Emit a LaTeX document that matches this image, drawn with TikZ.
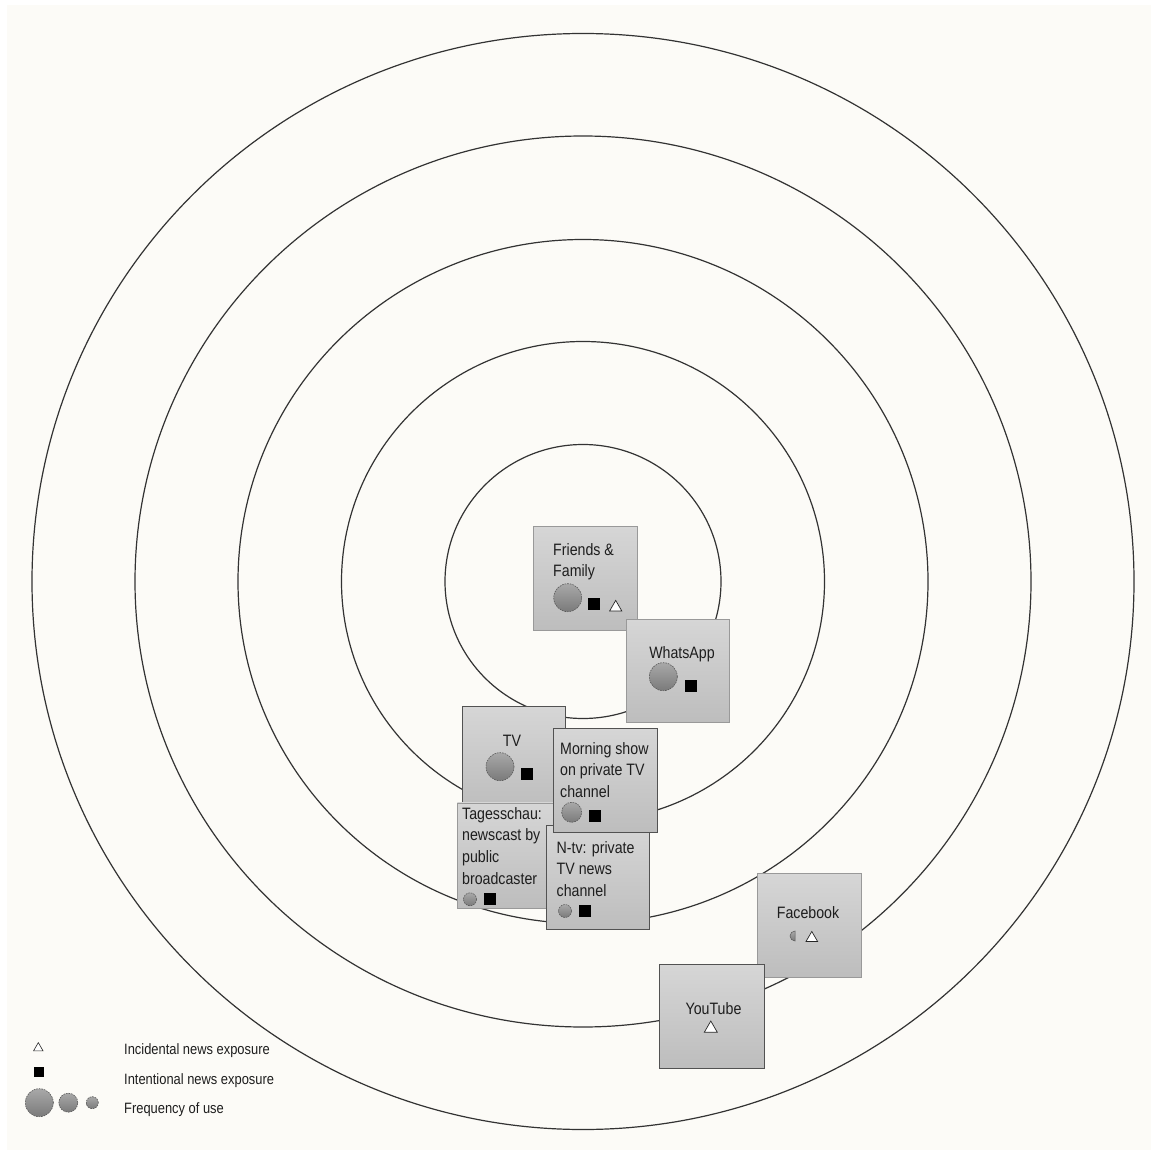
\documentclass[tikz,border=0pt]{standalone}
\usepackage{fontspec}
\setmainfont{Liberation Sans}[FakeStretch=0.86]
\usetikzlibrary{shapes.geometric}
\definecolor{bgcol}{HTML}{FCFBF7}
\definecolor{ringcol}{HTML}{333333}
\definecolor{boxtop}{HTML}{D6D6D6}
\definecolor{boxbot}{HTML}{BDBDBD}
\definecolor{txtcol}{HTML}{1E1E1E}
\begin{document}
\begin{tikzpicture}[x=1pt,y=-1pt,
 ring/.style={draw=ringcol, line width=1.2pt},
 card/.style={rectangle, inner sep=0pt, top color=boxtop, bottom color=boxbot, draw=black!40, line width=0.6pt, anchor=north west},
 carddark/.style={card, draw=black!68, line width=0.9pt},
 lbl/.style={inner sep=0pt, align=left, text=txtcol, anchor=base west, font=\fontsize{16.5}{21.7}\selectfont},
 lblc/.style={inner sep=0pt, align=center, text=txtcol, anchor=base, font=\fontsize{16.5}{21.7}\selectfont},
 leg/.style={inner sep=0pt, anchor=base west, text=txtcol, font=\fontsize{15}{18}\selectfont},
 freq/.style={circle, inner sep=0pt, top color=black!34, bottom color=black!52, draw=black!65, dash pattern=on 1.6pt off 1pt, line width=0.6pt},
 intent/.style={rectangle, inner sep=0pt, minimum size=12pt, fill=black},
 incid/.style={regular polygon, regular polygon sides=3, inner sep=0pt, minimum size=14pt, fill=white, draw=black!85, line width=0.7pt},
]
\fill[white] (0,0) rectangle (1151,1150);
\fill[bgcol] (7,5) rectangle (1151,1150);
\useasboundingbox (0,0) rectangle (1151,1150);

% rings
\foreach \rx/\ry in {138/137, 241.5/240, 345/342, 448/445.5, 551/548}
  \draw[ring] (583,581.5) ellipse [x radius=\rx, y radius=\ry];

% Friends & Family (anchor = baseline of last line)
\node[card, minimum width=104pt, minimum height=104pt] (ff) at (533,526) {};
\node[lbl] (ff-t) at (553,576.7) {Friends \&\\Family};
\node[freq, minimum size=28pt] (ff-f) at (567.7,597.7) {};
\node[intent] (ff-i) at (594,604.3) {};
\node[incid] (ff-n) at (615.7,607.4) {};

% WhatsApp
\node[card, minimum width=103pt, minimum height=103pt] (wa) at (626,619) {};
\node[lblc] (wa-t) at (682,658) {WhatsApp};
\node[freq, minimum size=28pt] (wa-f) at (663.3,676.7) {};
\node[intent] (wa-i) at (690.7,685.7) {};

% TV
\node[carddark, minimum width=103pt, minimum height=103pt] (tv) at (462,706) {};
\node[lblc] (tv-t) at (512,746) {TV};
\node[freq, minimum size=28pt] (tv-f) at (500,766.7) {};
\node[intent] (tv-i) at (526.7,774) {};

% Tagesschau
\node[card, minimum width=104pt, minimum height=105pt] (ts) at (457,802.5) {};
\node[lbl] (ts-t) at (462,884.3) {Tagesschau:\\newscast by\\public\\broadcaster};
\node[freq, minimum size=13pt] (ts-f) at (470,899.3) {};
\node[intent] (ts-i) at (490,899.3) {};

% N-tv
\node[carddark, minimum width=103pt, minimum height=104pt] (nt) at (546,825) {};
\node[lbl] (nt-t) at (556.5,896.5) {N-tv: private\\TV news\\channel};
\node[freq, minimum size=13pt] (nt-f) at (565,911) {};
\node[intent] (nt-i) at (585,911) {};

% Morning show
\node[carddark, minimum width=104pt, minimum height=104pt] (ms) at (553,728) {};
\node[lbl] (ms-t) at (560,797.4) {Morning show\\on private TV\\channel};
\node[freq, minimum size=20pt] (ms-f) at (571.7,812.3) {};
\node[intent] (ms-i) at (595,815.7) {};

% Facebook
\node[card, minimum width=104pt, minimum height=104pt] (fb) at (757,873) {};
\node[lblc] (fb-t) at (808,918.3) {Facebook};
\path[top color=black!34, bottom color=black!52, draw=black!65, line width=0.5pt]
  (795,931) arc[start angle=-90, end angle=-270, radius=5] -- cycle;
\node[incid, minimum size=13.5pt] (fb-n) at (811.8,938.2) {};

% YouTube
\node[carddark, minimum width=105pt, minimum height=104pt] (yt) at (659,964) {};
\node[lblc] (yt-t) at (713.5,1014) {YouTube};
\node[incid, minimum size=15pt] (yt-n) at (710.8,1028.5) {};

% legend
\node[incid, minimum size=11pt, line width=0.6pt] (lg-n) at (38.3,1048.1) {};
\node[intent, minimum size=10pt] (lg-i) at (39,1071.7) {};
\node[freq, minimum size=28pt] (lg-f1) at (39.3,1102.7) {};
\node[freq, minimum size=19pt] (lg-f2) at (68.3,1102.7) {};
\node[freq, minimum size=12pt] (lg-f3) at (92.3,1102.7) {};
\node[leg] (lg-nt) at (124,1054) {Incidental news exposure};
\node[leg] (lg-it) at (124,1084) {Intentional news exposure};
\node[leg] (lg-ft) at (124,1113) {Frequency of use};
\end{tikzpicture}
\end{document}
